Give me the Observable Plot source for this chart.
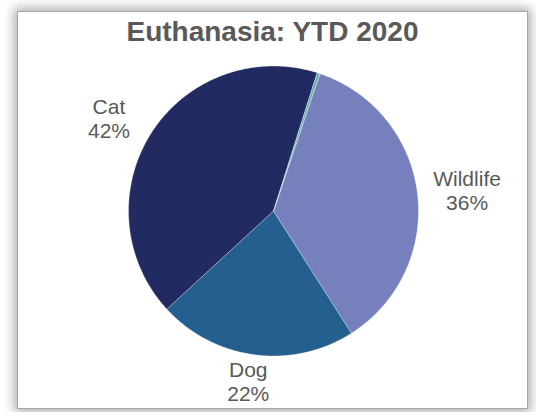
<!DOCTYPE html>
<html><head><meta charset="utf-8">
<script src="https://cdn.jsdelivr.net/npm/d3@7"></script>
<script src="https://cdn.jsdelivr.net/npm/@observablehq/plot@0.6"></script>
<style>
html,body{margin:0;padding:0;background:#fff;width:536px;height:412px;overflow:hidden}
#frame{position:absolute;left:17px;top:11px;width:511px;height:398px;box-sizing:border-box;border:1px solid #a8a8a8;box-shadow:0 0 10px 3px rgba(0,0,0,0.32);background:#fff}
#title{height:44px;line-height:44px;padding-top:4px;box-sizing:border-box;text-align:center;font:bold 28px "Liberation Sans",Arial,sans-serif;color:#595959;white-space:nowrap;overflow:visible}
#chart svg{display:block}
</style></head><body>
<div id="frame"><div id="title">Euthanasia: YTD 2020</div><div id="chart"></div></div>
<script>
// Data (percent of YTD euthanasia), in clockwise drawing order
const categories = ["Wildlife", "Dog", "Cat", "Other"];
const shares = [35.8, 22.2, 41.7, 0.3];
const showLabel = [true, true, true, false];
const colors = ["#7580bd", "#255f8f", "#222b61", "#6bb0ae"];
const firstSliceAngleDeg = 18.6;

const R = 145; // pixels per unit radius
const fontFamily = '"Liberation Sans", Arial, sans-serif';
const fontSize = 21;
const lineH = 24;
const labelOutX = 50, labelOutY = 27; // label ring beyond the pie edge (px)

const start = firstSliceAngleDeg * Math.PI / 180;
const arcs = d3.pie().sort(null).startAngle(start).endAngle(start + 2 * Math.PI)(shares);

// polygon vertices for each slice
const poly = [];
arcs.forEach((a, i) => {
  const cat = categories[i];
  poly.push({cat, x: 0, y: 0});
  const n = Math.max(2, Math.ceil((a.endAngle - a.startAngle) / (Math.PI / 360)));
  for (let k = 0; k <= n; k++) {
    const t = a.startAngle + (a.endAngle - a.startAngle) * k / n;
    poly.push({cat, x: Math.sin(t), y: Math.cos(t)});
  }
});

// label positions derived from slice mid-angles
const lab = [];
arcs.forEach((a, i) => {
  if (!showLabel[i]) return;
  const text = `${categories[i]}\n${Math.round(shares[i])}%`;
  const m = (a.startAngle + a.endAngle) / 2;
  lab.push({
    text,
    x: Math.sin(m) * (R + labelOutX) / R,
    y: Math.cos(m) * (R + labelOutY) / R
  });
});

const cx = 255, cy = 154.5;
const chart = Plot.plot({
  width: 509,
  height: 352,
  marginTop: 0, marginBottom: 0, marginLeft: 0, marginRight: 0,
  x: {domain: [-1, 1], range: [cx - R, cx + R], axis: null},
  y: {domain: [-1, 1], range: [cy + R, cy - R], axis: null},
  color: {domain: categories, range: colors},
  style: {background: "transparent", overflow: "visible"},
  marks: [
    Plot.line(poly, {x: "x", y: "y", z: "cat", fill: "cat", stroke: "#ffffff", strokeWidth: 0.6, strokeOpacity: 0.6, curve: "linear-closed"}),
    Plot.text(lab, {x: "x", y: "y", text: "text", fontSize, fontFamily, lineHeight: lineH / fontSize, lineAnchor: "middle", textAnchor: "middle", fill: "#595959"})
  ]
});
document.getElementById("chart").appendChild(chart);
</script>
</body></html>
